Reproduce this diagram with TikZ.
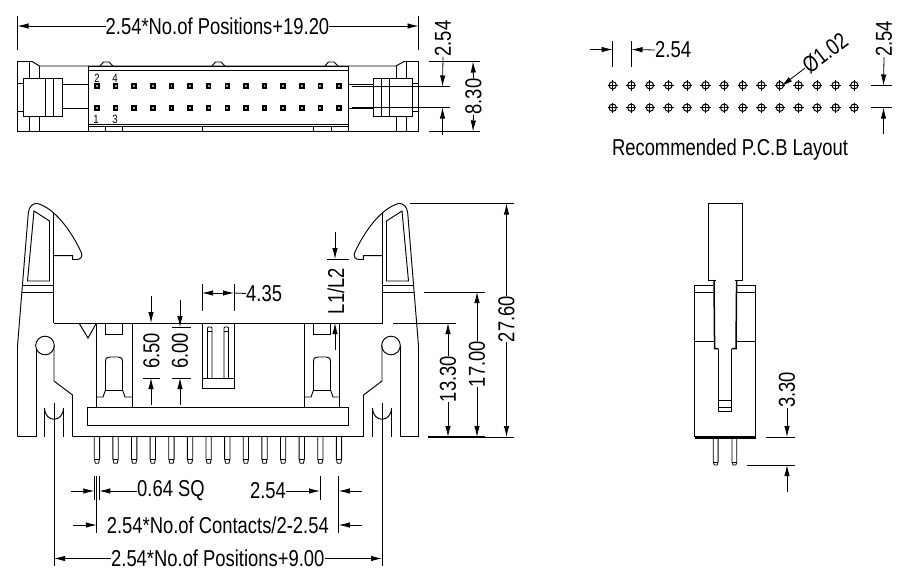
\documentclass[tikz,border=0pt]{standalone}
\usepackage{fontspec}
\setmainfont[FakeStretch=0.8]{Liberation Sans}
\usetikzlibrary{arrows.meta}
\tikzset{
  part/.style={line width=0.95pt,black,line join=miter},
  thin part/.style={line width=0.85pt,black},
  hole/.style={line width=1pt,black},
  ext/.style={line width=0.8pt,black},
  dim/.style={line width=0.8pt,black,-{Latex[length=11pt,width=5.5pt]}},
  both/.style={line width=0.8pt,black,{Latex[length=11pt,width=5.5pt]}-{Latex[length=11pt,width=5.5pt]}},
  lab/.style={inner sep=0pt,font=\fontsize{23}{25}\selectfont,text=black},
  vlab/.style={lab,rotate=90},
  tiny/.style={inner sep=0pt,font=\fontsize{12}{13}\selectfont,text=black},
  padmark/.style={fill=black,minimum size=5.5pt,inner sep=0pt},
}
\newcommand{\halfview}{%
  % latch
  \draw[part] (17.5,436.5) -- (17.5,346) -- (28.3,213)
    .. controls (29,206) and (33,203.4) .. (37,203.4)
    .. controls (55,208) and (72,232) .. (81.5,253)
    .. controls (83,257) and (80,259.5) .. (77,259.5)
    -- (72.7,259.5) -- (72.7,255.7) -- (53.5,255.7);
  \draw[part] (53.5,213) -- (53.5,323);
  \draw[part] (34,211) -- (49.5,221) -- (49.5,281) -- (27.5,281) -- cycle;
  \draw[part] (23,285) -- (53.5,285) (22.3,292) -- (53.5,292);
  % post
  \draw[part] (36,436.5) -- (36,345.5);
  \draw[part,fill=white] (45,345.5) circle (9.3);
  \draw[part] (54,345.5) -- (54,381) -- (72.5,395) -- (72.5,436.5);
  \draw[part] (44.5,408) -- (44.5,436.5) (63.5,408) -- (63.5,436.5);
  \draw[part] (44.5,408) .. controls (45,423) and (63,423) .. (63.5,408);
  \draw[ext] (54,403) -- (54,566);
  \draw[part,line width=1.3pt] (17.5,436.8) -- (36,436.8);
  % housing
  \draw[part] (96.5,323) -- (96.5,408) (132,323) -- (132,408);
  \draw[part] (105.5,323) -- (105.5,334) -- (122.5,334) -- (122.5,323);
  \draw[part] (96.5,397) -- (103,397) -- (105.5,390) -- (105.5,362)
    .. controls (105.5,358) and (107,357) .. (110,357) -- (118,357)
    .. controls (121,357) and (122.5,358) .. (122.5,362) -- (122.5,390)
    -- (125,397) -- (132,397);
  \draw[part] (105.5,390) -- (122.5,390);
}
\begin{document}
\begin{tikzpicture}[x=1pt,y=-1pt]
\useasboundingbox (0,0) rectangle (901,586);
\fill[white] (0,0) rectangle (901,586);

%%% ---------- top view ----------
\draw[part] (17.5,131.5) -- (17.5,61.5) -- (32,61.5) -- (39.5,66) -- (396,66) -- (404,61.5) -- (418.5,61.5) -- (418.5,131.5) -- cycle;
\draw[part] (88,66) rectangle (348,131.5);
\draw[part] (88,70) -- (348,70);
\draw[part,line width=1.2pt] (88,124.5) -- (348,124.5);
\foreach \a/\b in {88/105.5,105.5/122,122/202,234/313,313/331,331/348}{
  \draw[part] (\a,126) -- (\b,126) (\b,126) -- (\b,131.5);
}
\draw[part] (202,126) -- (234,126) (202,126) -- (202,131.5);
\foreach \a in {100,212,325}{
  \draw[part] (\a,66) -- (\a+3.5,62) -- (\a+9,62) -- (\a+13,66);
}
% left latch
\draw[part] (23,78) rectangle (62,116.5);
\draw[part] (45,78) -- (45,116.5) (53,78) -- (53,116.5);
\draw[part] (62,84.5) -- (88,84.5) (62,108.5) -- (88,108.5);
\draw[part] (17.5,83) -- (23,83) (17.5,111) -- (23,111);
\draw[part] (29.5,61.5) -- (29.5,78) (39.5,66) -- (39.5,78) (29.5,116.5) -- (29.5,131.5) (39.5,116.5) -- (39.5,131.5);
% right latch
\draw[part] (373,78) rectangle (412.5,116.5);
\draw[part] (381,78) -- (381,116.5) (389.5,78) -- (389.5,116.5);
\draw[part] (348,84.5) -- (373,84.5) (348,108.5) -- (373,108.5);
\draw[part] (412.5,83) -- (418.5,83) (412.5,111) -- (418.5,111);
\draw[part] (396,66) -- (396,78) (406,61.5) -- (406,78) (396,116.5) -- (396,131.5) (406,116.5) -- (406,131.5);
% pins
\foreach \i in {0,...,13}{
  \node[padmark] (pa\i) at ({97+18.615*\i},86) {};
  \node[padmark] (pb\i) at ({97+18.615*\i},108) {};
  \fill[white!65!black] ({97+18.615*\i-0.9},85.1) rectangle ({97+18.615*\i+0.9},86.9);
  \fill[white!65!black] ({97+18.615*\i-0.9},107.1) rectangle ({97+18.615*\i+0.9},108.9);
}
\node[tiny] (n2) at (97,78.5) {2};
\node[tiny] (n4) at (115,78.5) {4};
\node[tiny] (n1) at (96,119.5) {1};
\node[tiny] (n3) at (115,119.5) {3};
% top dimensions
\node[lab] (dtop) at (217.5,26) {2.54*No.of Positions+19.20};
\coordinate (tl) at (17.5,26);
\coordinate (tr) at (418.5,26);
\draw[ext] (17.5,16) -- (17.5,50) (418.5,16) -- (418.5,50);
\draw[dim] (dtop.west) -- (tl);
\draw[dim] (dtop.east) -- (tr);
\draw[ext] (429,61.5) -- (480,61.5) (429,131.5) -- (480,131.5);
\draw[ext] (352,86.5) -- (450,86.5) (352,107.5) -- (450,107.5);
\node[vlab] (d254a) at (443,38.5) {2.54};
\draw[dim] (d254a.west) -- (442.5,86.5);
\draw[dim] (442.5,134.5) -- (442.5,107.5);
\node[vlab] (d830) at (473.5,96.5) {8.30};
\draw[dim] (d830.east) -- (473,61.5);
\draw[dim] (d830.west) -- (473,131.5);

%%% ---------- PCB layout ----------
\foreach \i in {0,...,13}{
  \foreach \y in {85.3,107.7}{
    \draw[hole] ({612.7+18.58*\i},\y) circle (3.7);
    \draw[hole] ({612.7+18.58*\i-5.2},\y) -- ({612.7+18.58*\i+5.2},\y) ({612.7+18.58*\i},\y-5.2) -- ({612.7+18.58*\i},\y+5.2);
  }
}
\draw[ext] (612.7,40.7) -- (612.7,67) (631.5,40.7) -- (631.5,67);
\draw[dim] (590,49.5) -- (612.7,49.5);
\node[lab,anchor=west] (p254) at (655,50) {2.54};
\draw[dim] (p254.west) -- (631.5,49.5);
\node[lab,rotate=37] (pdia) at (825,53) {Ø1.02};
\draw[dim] (pdia.west) -- (781.5,86);
\node[vlab] (p254v) at (884,39) {2.54};
\draw[ext] (871,85.5) -- (892,85.5) (871,107.5) -- (892,107.5);
\draw[dim] (p254v.west) -- (883.5,85.5);
\draw[dim] (883.5,134) -- (883.5,107.5);
\node[lab] (prec) at (730,149.5) {Recommended P.C.B Layout};

%%% ---------- front view ----------
\halfview
\begin{scope}[shift={(436,0)},xscale=-1]
\halfview
\end{scope}
\draw[part] (79,323) -- (88,338) -- (96.5,323);
\draw[part] (53.5,323) -- (382.5,323);
\draw[part] (72.5,436.5) -- (363.5,436.5);
\draw[part] (87.7,407.7) rectangle (348.3,425.7);
\draw[part] (202,323) -- (202,388) -- (234,388) -- (234,323);
\draw[part] (202,378) -- (234,378);
\draw[thin part] (207.5,378) -- (207.5,328) -- (208.5,327) -- (211,327) -- (212,328) -- (212,378);
\draw[thin part] (207.5,331) -- (212,331);
\draw[thin part] (224,378) -- (224,328) -- (225,327) -- (227.5,327) -- (228.5,328) -- (228.5,378);
\draw[thin part] (224,331) -- (228.5,331);
% pins
\foreach \i in {0,...,13}{
  \draw[thin part] ({94.3+18.62*\i},436.5) -- ({94.3+18.62*\i},459) -- ({95.3+18.62*\i},463.3) -- ({98.6+18.62*\i},463.3) -- ({99.6+18.62*\i},459) -- ({99.6+18.62*\i},436.5);
  \draw[thin part] ({94.3+18.62*\i},459.5) -- ({99.6+18.62*\i},459.5);
}
% right dimensions
\draw[ext] (393,323) -- (456,323) (424,292) -- (485,292) (410,203.5) -- (514,203.5);
\draw[ext] (485,437) -- (514,437);
\draw[ext,line width=1.3pt] (428,437) -- (485,437);
\node[vlab] (d1330) at (448,379) {13.30};
\draw[dim] (d1330.east) -- (448,323);
\draw[dim] (d1330.west) -- (448,437);
\node[vlab] (d1700) at (477,364) {17.00};
\draw[dim] (d1700.east) -- (477,292);
\draw[dim] (d1700.west) -- (477,437);
\node[vlab] (d2760) at (506.5,319) {27.60};
\draw[dim] (d2760.east) -- (506.5,203.5);
\draw[dim] (d2760.west) -- (506.5,437);
% L1/L2
\draw[ext] (327,259) -- (349,259);
\draw[dim] (335,232) -- (335,259);
\node[vlab] (dl) at (336,291) {L1/L2};
\draw[dim] (335,350) -- (335,323);
% 4.35
\draw[ext] (202,284) -- (202,311) (234,284) -- (234,311);
\draw[both] (202,293) -- (234,293);
\node[lab,anchor=west] (d435) at (246,293.5) {4.35};
\draw[ext] (234,293) -- (d435.west);
% 6.50 and 6.00
\node[vlab] (d650) at (151.5,351) {6.50};
\draw[dim] (151,296) -- (151,323);
\draw[ext] (143,378) -- (160,378);
\draw[dim] (151,405) -- (151,378);
\node[vlab] (d600) at (180,351) {6.00};
\draw[ext] (172,327) -- (191,327) (172,378) -- (191,378);
\draw[dim] (180,300) -- (180,327);
\draw[dim] (180,405) -- (180,378);
% bottom dimensions
\draw[ext] (94.3,475.7) -- (94.3,500) (99.3,475.7) -- (99.3,500) (96.8,475.7) -- (96.8,533);
\draw[ext] (320,475.7) -- (320,500) (338.8,475.7) -- (338.8,533);
\draw[dim] (70.6,491) -- (94.3,491);
\node[lab] (d064) at (171,491) {0.64 SQ};
\draw[dim] (d064.west) -- (99.3,491);
\node[lab] (d254b) at (268,491) {2.54};
\draw[dim] (d254b.east) -- (320,491);
\draw[dim] (362,491) -- (338.8,491);
\node[lab] (dcon) at (217.8,525) {2.54*No.of Contacts/2-2.54};
\draw[dim] (73,525) -- (96.8,525);
\draw[dim] (362,525) -- (338.8,525);
\node[lab] (dpos) at (217.8,558.5) {2.54*No.of Positions+9.00};
\coordinate (bl) at (54,558.5);
\coordinate (br) at (382,558.5);
\draw[dim] (dpos.west) -- (bl);
\draw[dim] (dpos.east) -- (br);

%%% ---------- side view ----------
\draw[part] (708.3,203.5) rectangle (742.3,280);
\draw[white,line width=1.5pt] (715.5,280) -- (735,280);
\draw[part,line width=1.5pt] (714,280) -- (714.6,348.5) -- (718.3,348.5);
\draw[part,line width=1.5pt] (736.6,280) -- (736,348.5) -- (731.7,348.5);
\draw[part] (718.3,348.5) -- (718.3,411.7) -- (731.7,411.7) -- (731.7,348.5);
\draw[part] (718.3,400.7) -- (731.7,400.7) (718.3,407.3) -- (731.7,407.3);
\draw[part] (712.5,285) -- (694.7,285) -- (694.7,436.7) -- (755.7,436.7) -- (755.7,285) -- (737,285);
\draw[part] (694.7,292) -- (713,292) (737,292) -- (755.7,292);
\draw[part] (694.7,341.7) -- (713.5,341.7) (736.5,341.7) -- (755.7,341.7);
\draw[part,line width=1.2pt] (694.7,438) -- (755.7,438);
\foreach \a in {713.3,732}{
  \draw[thin part] (\a,438) -- (\a,462) -- (\a+1,465) -- (\a+3.8,465) -- (\a+4.8,462) -- (\a+4.8,438);
  \draw[thin part] (\a,462.5) -- (\a+4.8,462.5);
}
\draw[ext] (766,437) -- (795,437) (747,465) -- (795,465);
\node[vlab] (d330) at (787,390) {3.30};
\draw[dim] (d330.west) -- (787,437);
\draw[dim] (787,492) -- (787,465);
\end{tikzpicture}
\end{document}
